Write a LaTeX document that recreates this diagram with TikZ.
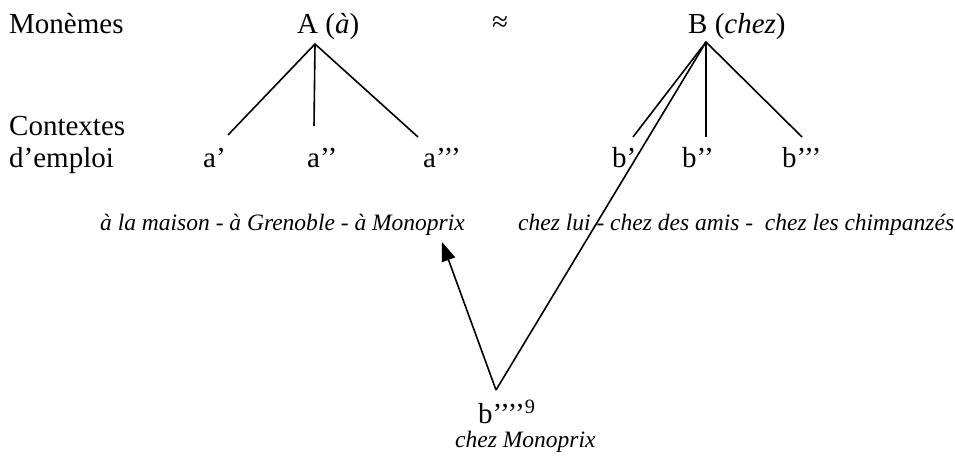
\documentclass[tikz,border=0pt]{standalone}
\usepackage{fontspec}
\setmainfont{Liberation Serif}
\usetikzlibrary{arrows.meta}
\tikzset{
  lab/.style={anchor=base west, inner sep=0pt, font=\fontsize{29}{34}\selectfont},
  ital/.style={anchor=base west, inner sep=0pt, font=\fontsize{23.5}{28}\selectfont\itshape},
  leg/.style={line width=1.6pt},
  arr/.style={line width=1.6pt, -{Triangle[length=19pt,width=14pt]}}
}
\begin{document}
\begin{tikzpicture}[x=1pt,y=-1pt]
\useasboundingbox (0,0) rectangle (955,459);
% labels
\node[lab] (mon) at (9,33) {Monèmes};
\node[lab] (A) at (297,33) {A (\textit{à})};
\node[lab] (approx) at (492,31) {≈};
\node[lab] (B) at (688,33) {B (\textit{chez})};
\node[lab] (ctx) at (9,135) {Contextes};
\node[lab] (emp) at (9,167) {d’emploi};
\node[lab] (a1) at (203,167) {a’};
\node[lab] (a2) at (307,167) {a’’};
\node[lab] (a3) at (423,167) {a’’’};
\node[lab] (b1) at (612,167) {b’};
\node[lab] (b2) at (682,167) {b’’};
\node[lab] (b3) at (782,167) {b’’’};
\node[ital] (ctxA) at (100,230) {à la maison - à Grenoble - à Monoprix};
\node[ital] (ctxB) at (518,230) {chez lui - chez des amis -\ \ chez les chimpanzés};
\node[lab] (b4) at (478,423) {b’’’’\textsuperscript{9}};
\node[ital] (cm) at (455,447) {chez Monoprix};
% coordinates
\coordinate (Atop) at (315,44);
\coordinate (Aa1) at (228,135);
\coordinate (Aa2) at (314,126);
\coordinate (Aa3) at (418,137);
\coordinate (Btop) at (706,42);
\coordinate (Bb1) at (633,137);
\coordinate (Bb2) at (706,137);
\coordinate (Bb3) at (802,137);
\coordinate (V) at (496,390);
\coordinate (tip) at (442,242);
% tree lines
\draw[leg] (Aa1) -- (Atop) -- (Aa3);
\draw[leg] (Atop) -- (Aa2);
\draw[leg] (Bb1) -- (Btop) -- (Bb3);
\draw[leg] (Btop) -- (Bb2);
\draw[leg] (Btop) -- (V);
\draw[arr] (V) -- (tip);
\end{tikzpicture}
\end{document}
